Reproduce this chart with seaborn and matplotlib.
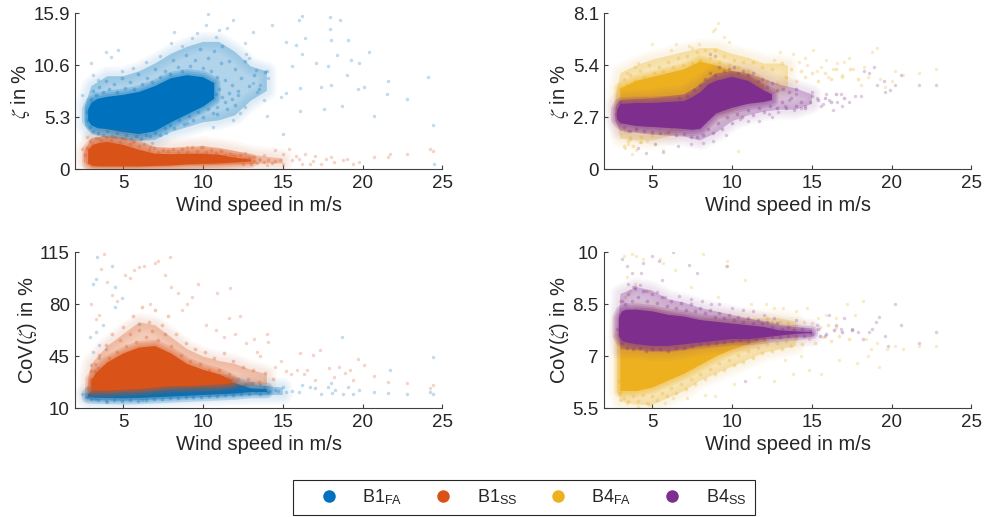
import matplotlib
import matplotlib.pyplot as plt
from matplotlib.lines import Line2D
import pandas as pd
import seaborn as sns

matplotlib.use('Agg')

# colours of the four series
blue = '#0072BD'
orange = '#D95319'
yellow = '#EDB120'
purple = '#7E2F8E'

zeta_b1fa_core = [[2.8, 5.0, 6.1], [3.0, 4.5, 6.8], [3.4, 4.2, 7.2], [4, 4.1, 7.4], [5, 3.8, 7.6], [6, 3.6, 7.9], [7, 3.9, 8.5], [8, 4.8, 9.3], [9, 5.6, 9.6], [10, 6.4, 9.4], [10.7, 7.2, 8.8]]
zeta_b1fa_haze = [[2.6, 4.5, 6.5], [3, 3.6, 8.5], [4, 3.2, 9.5], [5, 3.0, 9.5], [6, 2.9, 10], [7, 3.0, 10.8], [8, 3.8, 11.8], [9, 4.3, 12.5], [10, 4.8, 13], [11, 5, 13], [12, 5.5, 12], [13, 7, 10.5], [14, 8, 10]]
zeta_b1ss_core = [[2.8, 0.6, 2.0], [3.1, 0.35, 2.5], [3.5, 0.3, 2.7], [4, 0.3, 2.8], [5, 0.3, 2.5], [6, 0.3, 2.0], [7, 0.35, 1.6], [8, 0.4, 1.55], [9, 0.5, 1.6], [10, 0.55, 1.6], [11, 0.6, 1.5], [12, 0.7, 1.2], [13, 0.8, 1.0]]
zeta_b1ss_haze = [[2.5, 0.8, 1.6], [3, 0.2, 3.2], [4, 0.2, 3.4], [5, 0.2, 3.3], [6, 0.2, 2.9], [7, 0.25, 2.3], [8, 0.3, 2.2], [9, 0.4, 2.3], [10, 0.4, 2.4], [11, 0.45, 2.2], [12, 0.5, 1.9], [13, 0.55, 1.5], [14, 0.6, 1.3], [15, 0.6, 1.1]]
zeta_b4fa_core = [[3, 2.7, 4.2], [4, 2.7, 4.6], [5, 2.7, 4.8], [6, 2.7, 5.0], [7, 2.9, 5.2], [8, 3.2, 5.6], [9, 3.8, 5.4], [10, 4.0, 5.1], [11, 4.0, 4.9], [12, 4.0, 4.4]]
zeta_b4fa_haze = [[2.7, 2.7, 3.8], [3, 1.6, 5], [4, 1.5, 5.4], [5, 1.5, 5.7], [6, 1.7, 5.9], [7, 2, 6.1], [8, 2.3, 6.3], [9, 2.8, 6.3], [10, 3, 6], [11, 3.5, 5.8], [12, 3.8, 5.5], [13, 4, 5.5], [13.5, 4.3, 5.4]]
zeta_b4ss_core = [[2.8, 2.6, 3.1], [3, 2.4, 3.4], [4, 2.25, 3.45], [5, 2.2, 3.45], [6, 2.15, 3.5], [7, 2.1, 3.55], [7.5, 2.05, 3.75], [8, 2.1, 4.0], [8.5, 2.5, 4.4], [9, 2.9, 4.6], [10, 3.2, 4.8], [11, 3.4, 4.6], [12, 3.5, 4.1], [12.5, 3.6, 3.9]]
zeta_b4ss_haze = [[2.7, 2.5, 3.3], [3, 2, 3.6], [5, 1.8, 3.7], [7, 1.7, 3.9], [8, 1.5, 4.4], [9, 1.9, 5], [10, 2.5, 5.1], [11, 2.8, 5], [12, 3, 4.7], [13, 3.1, 4.4], [14, 3.1, 4.2], [15, 3.4, 3.9]]
cov_b1fa_core = [[2.8, 17.5, 19.5], [3.2, 17.2, 24], [4, 17, 26], [5, 16.8, 27], [6, 17, 28], [7, 17.5, 29], [8, 18, 29], [9, 18.5, 29], [10, 19, 29], [11, 19.5, 29], [12, 20, 27], [13, 21, 23.5], [14, 21, 23]]
cov_b1fa_haze = [[2.6, 17, 20], [3, 15.5, 21], [5, 15, 22], [8, 16.5, 25], [11, 18, 26], [13, 19, 26], [15, 19, 24]]
cov_b1ss_core = [[3, 22, 29], [3.3, 22, 34], [4, 22, 41], [5, 22.5, 47], [6, 23, 51], [7, 24, 52], [8, 25, 47], [9, 25, 40], [10, 25.5, 36], [11, 26, 33], [11.8, 27, 29]]
cov_b1ss_haze = [[2.8, 20, 30], [3, 20, 40], [4, 20, 52], [5, 21, 60], [6, 21, 68], [7, 22, 66], [8, 23, 58], [9, 24, 50], [10, 24, 45], [11, 24, 42], [12, 25, 40], [13, 25, 36], [14, 26, 33]]
cov_b4fa_core = [[3, 6.0, 7.6], [4, 6.0, 7.6], [5, 6.1, 7.6], [6, 6.3, 7.6], [7, 6.5, 7.6], [8, 6.75, 7.6], [9, 7.0, 7.6], [10, 7.2, 7.6], [11, 7.35, 7.6], [12, 7.5, 7.6]]
cov_b4fa_haze = [[2.8, 6, 7.6], [3, 5.7, 8.2], [4, 5.6, 8.4], [5, 5.6, 8.4], [6, 5.8, 8.3], [7, 6, 8.2], [8, 6.3, 8.1], [9, 6.5, 8.1], [10, 6.7, 8.1], [11, 6.9, 8.1], [12, 7.1, 8.1], [13, 7.2, 8.1], [14, 7.3, 8]]
cov_b4ss_core = [[2.9, 7.6, 8.1], [3.1, 7.45, 8.3], [3.4, 7.4, 8.35], [4, 7.35, 8.35], [5, 7.3, 8.3], [6, 7.3, 8.2], [7, 7.35, 8.15], [8, 7.4, 8.05], [9, 7.45, 8], [10, 7.5, 7.95], [11, 7.5, 7.9], [12, 7.55, 7.85], [13, 7.6, 7.75], [14, 7.65, 7.72], [15, 7.68, 7.7]]
cov_b4ss_haze = [[2.9, 7.6, 8.1], [3, 7.2, 8.8], [4, 7.2, 9], [5, 7.15, 8.9], [6, 7.15, 8.65], [7, 7.2, 8.55], [8, 7.3, 8.4], [9, 7.35, 8.3], [10, 7.4, 8.2], [11, 7.45, 8.1], [12, 7.5, 8], [13, 7.5, 7.9], [14, 7.55, 7.85], [15, 7.55, 7.8]]

# points crowding round each core, wind and value in pairs
zeta_b1fa_fringe = [[3, 7.2], [3.1, 8], [3.3, 7.6], [3.5, 8.4], [3.7, 7.9], [3.9, 9], [4.1, 8.2], [4.4, 8.7], [4.6, 7.9], [4.9, 9.3], [5.1, 8.3], [5.4, 8.9], [5.7, 8.2], [5.9, 9.7], [6.2, 8.7], [6.5, 9.3], [6.8, 8.9], [7, 10.2], [7.3, 9.4], [7.6, 10], [7.9, 9.7], [8.1, 11.2], [8.4, 10.4], [8.7, 10], [8.9, 11.7], [9.2, 10.5], [9.5, 11.1], [9.8, 12.3], [10, 10.3], [10.3, 11.4], [10.5, 10], [10.7, 12.1], [10.9, 9.4], [11.1, 10.8], [11.2, 12.6], [11.4, 9.1], [11.6, 11], [11.8, 8.6], [12, 10.2], [12.2, 8], [12.4, 9.3], [12.6, 11], [12.9, 8.5], [13.2, 9.6], [13.5, 8.2], [13.9, 9.9], [10.8, 7.7], [11, 8.2], [11.2, 7.4], [11.4, 6.9], [11.6, 7.8], [11.8, 7.2], [12, 6.6], [12.2, 7.6], [11.5, 6.2], [10.9, 6.4], [2.8, 5], [2.7, 5.8], [2.9, 4.3], [3.1, 3.9], [3.4, 3.7], [3.7, 3.5], [4, 3.9], [4.3, 3.4], [4.6, 3.7], [4.9, 3.2], [5.2, 3.5], [5.5, 3.1], [5.8, 3.4], [6.1, 3.1], [6.4, 3.5], [6.7, 3.4], [7, 3.7], [7.3, 3.5], [7.6, 4.2], [7.9, 4.5], [8.2, 4.2], [8.5, 5], [8.8, 4.6], [9.1, 5.4], [9.4, 5], [9.7, 5.9], [10, 5.3], [10.3, 6.2], [10.6, 5.7], [10.9, 5.6]]
zeta_b1ss_fringe = [[2.6, 1.5], [2.7, 2.2], [2.9, 2.9], [3.1, 2.5], [3.3, 3.2], [3.6, 3], [3.9, 3.3], [4.2, 3], [4.5, 3.3], [4.8, 2.8], [5.1, 3.1], [5.4, 2.6], [5.7, 2.9], [6, 2.4], [6.3, 2.6], [6.6, 2], [6.9, 2.2], [7.2, 1.8], [7.5, 2], [7.8, 1.9], [8.1, 2.1], [8.4, 1.8], [8.7, 2.1], [9, 1.8], [9.3, 2.3], [9.6, 1.9], [9.9, 2.3], [10.2, 1.8], [10.5, 2], [10.8, 1.7], [11.1, 1.9], [11.4, 1.5], [11.7, 1.6], [12, 1.4], [12.3, 1.5], [12.6, 1.1], [12.9, 1.2], [13.2, 0.9], [13.5, 1.1], [13.8, 0.8], [14.1, 1], [14.3, 0.7], [14.5, 0.9], [13, 0.6], [13.4, 0.7], [12.5, 0.6]]
zeta_b4fa_fringe = [[2.9, 3.4], [3, 4.2], [3.2, 4.7], [3.4, 4.4], [3.6, 4.9], [3.9, 4.6], [4.2, 5.1], [4.5, 4.8], [4.8, 5.4], [5.1, 5], [5.4, 5.3], [5.7, 5.1], [6, 5.6], [6.3, 5.3], [6.6, 5.8], [6.9, 5.4], [7.2, 5.9], [7.5, 5.5], [7.8, 6.1], [8, 5.7], [8.3, 6.2], [8.6, 5.8], [8.9, 6.2], [9.2, 5.6], [9.5, 5.9], [9.8, 5.4], [10.1, 5.7], [10.4, 5.3], [10.7, 5.6], [11, 5.1], [11.3, 5.6], [11.6, 4.8], [11.9, 5.3], [12.2, 4.6], [12.5, 5.2], [12.8, 4.5], [13.1, 5.5], [13.4, 4.8], [13.7, 5.2], [14, 4.6], [14.3, 5.1], [14.6, 4.8], [15, 5], [15.4, 4.6], [15.8, 5], [16.2, 4.7], [16.5, 5.2], [16.9, 4.8], [17.4, 5.2], [17.9, 4.7], [3.3, 2], [3.6, 1.6], [4, 2.1], [4.3, 1.7], [4.7, 2.2], [5, 1.8], [5.4, 2.1], [5.8, 1.9], [6.2, 2.1], [3.2, 1.2], [3.5, 1.5], [3.8, 1.2], [4.2, 1.4]]
zeta_b4ss_fringe = [[2.7, 2.9], [3, 3.5], [3.2, 2.2], [3.6, 2], [4, 2.1], [4.5, 2], [5, 1.95], [5.5, 1.9], [6, 1.95], [6.5, 1.8], [7, 1.85], [7.4, 1.7], [7.8, 1.7], [8.2, 1.8], [8.5, 2.1], [8.8, 1.9], [9.1, 2.4], [9.4, 2.1], [9.7, 2.7], [10, 2.4], [10.3, 2.9], [10.6, 2.7], [11, 3.1], [11.3, 2.8], [11.7, 3.2], [12, 3], [12.4, 3.3], [12.8, 3.2], [13.1, 3.5], [13.4, 3.2], [13.7, 3.7], [14, 3.3], [14.3, 3.5], [14.6, 3.2], [15, 3.8], [15.4, 3.6], [15.8, 3.7], [16.2, 3.5], [16.5, 3.9], [17, 3.7], [8, 4.4], [8.3, 4.7], [8.6, 5], [8.9, 4.9], [9.2, 5.3], [9.5, 5.1], [9.8, 5.2], [10.1, 5.3], [10.4, 5], [10.7, 5.1], [11, 4.9], [11.3, 5], [11.6, 4.6], [11.9, 4.7], [12.2, 4.3], [12.5, 4.5], [12.8, 4.1], [13.2, 4.2], [13.6, 4], [14, 4.2], [7.6, 4.1], [7.2, 3.8], [6.7, 3.7]]
cov_b1fa_fringe = [[2.7, 18], [3, 16], [3.4, 15.7], [3.9, 15.2], [4.4, 15.4], [4.9, 15], [5.4, 15.4], [5.9, 15.3], [6.4, 15.6], [6.9, 16.3], [7.4, 16.2], [7.9, 16.8], [8.4, 17.2], [8.9, 17.4], [9.4, 17.8], [9.9, 18], [10.4, 18.2], [10.9, 18.6], [11.4, 19], [11.9, 19.3], [12.4, 19.6], [12.9, 20], [13.3, 22], [13.6, 20], [13.8, 24.5], [14.1, 21], [14.5, 22.5], [12.6, 26.5], [13, 27], [3, 30], [3.1, 27], [3.2, 35], [3.3, 31], [3.4, 37]]
cov_b1ss_fringe = [[2.9, 28], [3, 35], [3.2, 40], [3.3, 33], [3.5, 46], [3.7, 38], [3.9, 53], [4.1, 44], [4.3, 60], [4.6, 48], [4.8, 56], [5, 65], [5.2, 52], [5.4, 60], [5.6, 72], [5.8, 55], [6, 63], [6.2, 78], [6.4, 58], [6.6, 68], [6.8, 62], [7, 76], [7.2, 56], [7.4, 66], [7.6, 60], [7.8, 72], [8, 52], [8.3, 60], [8.6, 46], [8.9, 54], [9.2, 42], [9.5, 50], [9.8, 40], [10.1, 48], [10.4, 36], [10.7, 44], [11, 36], [11.3, 47], [11.6, 33], [11.9, 42], [12.2, 30], [12.5, 38], [12.8, 30], [13.1, 36], [13.5, 28], [13.9, 34], [14.4, 30]]
cov_b4fa_fringe = [[2.9, 6.3], [3, 5.95], [3.2, 5.8], [3.5, 5.7], [3.8, 5.85], [4.1, 5.7], [4.4, 5.9], [4.7, 5.65], [5, 5.85], [5.3, 5.75], [5.6, 5.95], [5.9, 5.85], [6.2, 6.1], [6.5, 5.95], [6.8, 6.2], [7.1, 6.05], [7.4, 6.35], [7.7, 6.2], [8, 6.5], [8.3, 6.35], [8.6, 6.65], [8.9, 6.5], [9.2, 6.8], [9.5, 6.6], [9.8, 6.9], [10.1, 6.75], [10.4, 7.05], [10.7, 6.85], [11, 7.15], [11.3, 6.95], [11.6, 7.25], [11.9, 7.1], [12.2, 7.35], [12.5, 7.15], [12.8, 7.4], [13.1, 7.2], [13.4, 7.45], [13.7, 7.3], [14, 7.5], [14.4, 7.35], [14.8, 7.5], [15.2, 7.4], [15.7, 7.55], [16.2, 7.45], [16.7, 7.6], [17.3, 7.5], [12.5, 8], [13, 8], [13.5, 7.95], [14, 7.9], [14.5, 8], [15, 7.95], [15.5, 7.85], [16, 7.9], [16.5, 7.85], [12.2, 8.1], [3, 8.6], [3.3, 8.7], [3.6, 8.9]]
cov_b4ss_fringe = [[2.8, 7.8], [2.95, 8.2], [3.1, 8.6], [3.3, 8.5], [3.5, 8.8], [3.7, 8.6], [3.9, 9], [4.1, 8.7], [4.4, 8.9], [4.7, 8.6], [5, 8.8], [5.3, 8.55], [5.6, 8.7], [5.9, 8.45], [6.2, 8.6], [6.5, 8.4], [6.8, 8.55], [7.1, 8.35], [7.4, 8.5], [7.7, 8.3], [8, 8.4], [8.3, 8.25], [8.6, 8.35], [8.9, 8.15], [9.2, 8.25], [9.5, 8.1], [9.8, 8.2], [10.1, 8.05], [10.4, 8.15], [10.7, 8], [11, 8.1], [11.3, 7.95], [11.6, 8.05], [11.9, 7.95], [12.2, 8], [12.5, 7.85], [12.8, 7.95], [13.1, 7.8], [13.5, 7.85], [13.9, 7.75], [14.4, 7.8], [14.9, 7.7], [15.4, 7.78], [15.9, 7.65], [16.4, 7.75], [16.9, 7.7], [17.5, 7.75], [3.1, 7.4], [3.4, 7.25], [3.8, 7.2], [4.2, 7.25], [4.6, 7.15], [5, 7.2], [5.5, 7.2], [6, 7.15], [6.5, 7.25], [7, 7.25], [7.5, 7.3], [8, 7.35], [8.5, 7.35], [9, 7.4], [9.5, 7.42], [10, 7.45], [10.5, 7.47], [11, 7.45], [11.5, 7.5], [12, 7.5], [12.5, 7.55], [13, 7.55], [13.5, 7.58], [14, 7.6], [14.5, 7.6], [15, 7.65], [15.5, 7.6]]

# single scatter points that can be told apart, wind then value
zeta_b1fa_x = [10.3, 16, 16.2, 17.95, 18.6, 11.9, 10.2, 14.3, 17.95, 13.1, 19.1, 18, 16.4, 15.2, 15.8, 20.4, 18.4, 19.8, 19.3, 16.2, 17.1, 17.8, 15.6, 14, 21.6, 24.1, 20.1, 19.7, 19, 18, 17.4, 21.5, 22.8, 18.7, 17.6, 16.1, 20.7, 24.4, 15, 24.5, 14.9, 15.2, 16.1, 14, 13.8, 13.1, 13.3, 12.6, 12.7, 11.5, 9.6, 8.2, 8, 3.9, 4.7, 4.2, 3, 3.1, 2.4, 6.8, 12.3, 12.6, 11.9, 10.6, 9, 7.7, 13.6, 14.1, 12.9, 13.4, 11, 10.8, 9.3, 8.7, 7.3, 6.4, 5.6, 4.9, 3.4]
zeta_b1fa_y = [15.85, 15.2, 15.6, 15.5, 15.2, 15.2, 14.7, 14.7, 14.3, 14, 13.2, 13.2, 13.4, 13, 12.7, 12, 11.7, 10.8, 11.1, 11.8, 10.8, 10.5, 10.5, 10, 9, 9.4, 8.4, 8.2, 9.6, 8.6, 8.4, 7.65, 7.2, 6.5, 6.2, 6, 5.4, 4.5, 3.6, 0.6, 7.4, 7.8, 8.3, 5.4, 7.1, 8.8, 10.1, 12.9, 11.8, 14.4, 13.9, 14, 12.9, 12, 12.2, 11.5, 10.8, 9.6, 7.6, 2.65, 5.7, 6.4, 5, 4.35, 4.7, 3.7, 8.6, 9.3, 11.4, 7.9, 14.2, 13.5, 13.4, 12.6, 11.6, 10.9, 10.3, 10, 9.1]
zeta_b1ss_x = [24.2, 24.4, 22.8, 21.7, 21.6, 20.7, 19.8, 19.4, 18.8, 18, 17.4, 18.2, 17, 16.4, 16.2, 15.6, 15.4, 15, 14.5, 15, 16, 16.7, 13.6, 14, 13.8, 2.7, 2.4, 3.5, 5.6, 6.65, 9, 10, 11.9, 12.6, 13.2, 14.8, 15.8, 17.7, 19, 16.9]
zeta_b1ss_y = [2.1, 1.9, 1.6, 1.6, 1.3, 1.3, 0.8, 0.6, 0.95, 1.3, 0.6, 0.8, 1.35, 1.6, 0.6, 0.95, 2.1, 0.6, 2, 1.6, 1.1, 0.6, 0.95, 0.45, 1.45, 3.3, 2.1, 3.2, 2.8, 2.3, 2.3, 2.3, 1.45, 1.7, 1.25, 1.0, 1.35, 1.05, 1.1, 0.9]
zeta_b4fa_x = [22.8, 21.7, 20.7, 20.2, 20, 19.3, 19.1, 18.8, 18.5, 18.1, 17.6, 17.3, 17, 16.6, 16.3, 16, 15.6, 15.3, 15.1, 14.6, 14.2, 13.8, 13, 12.6, 9.1, 8.9, 8.8, 9.5, 9.8, 5, 6.5, 7.3, 7.9, 3.3, 3.5, 3.7, 4, 4.3, 4.7, 5.2, 5.7, 10.4, 3.6, 3.4, 3.9, 4.1, 6.2, 7.5, 14.7, 15.9, 16.9, 18.3, 19.6]
zeta_b4fa_y = [5.2, 5.0, 4.9, 5.1, 4.6, 4.7, 6.3, 6.1, 4.8, 4.4, 5.2, 5.8, 5.6, 5.5, 5.2, 4.8, 5.3, 5.1, 6.2, 5.8, 5.6, 6.0, 6.1, 5.7, 7.6, 7.3, 7.2, 6.9, 6.6, 6.5, 6.5, 6.4, 6.5, 1.1, 1.3, 0.8, 1.0, 1.4, 1.5, 1.3, 1.0, 0.95, 1.7, 5.0, 5.3, 5.5, 6.2, 6.3, 5.4, 5.7, 4.9, 5.3, 4.3]
zeta_b4ss_x = [22.8, 21.7, 20.6, 20.2, 19.9, 19.6, 19.5, 19.1, 18.6, 18.3, 18.1, 17.7, 17.3, 16.9, 16.6, 16.3, 16.1, 15.9, 15.6, 15.3, 15, 14.6, 14.3, 14, 13.6, 13.3, 12.9, 12.3, 11.7, 11, 10.5, 9.6, 8.8, 8.2, 7.4, 6.6, 5.7, 5.2, 4.6, 4.1, 3.5, 3.2, 8.9, 8.6, 18.9, 16.8, 15.7, 14.9, 13.9, 12.5]
zeta_b4ss_y = [4.4, 4.4, 4.9, 4.4, 4.1, 4.0, 4.6, 4.4, 5.0, 5.1, 3.8, 3.8, 3.5, 3.3, 3.5, 3.1, 3.6, 3.9, 3.3, 3.7, 4.0, 3.3, 3.2, 3.9, 3.6, 3.3, 3.0, 2.9, 2.5, 2.5, 2.6, 1.8, 1.5, 1.35, 1.3, 1.2, 0.9, 1.3, 0.85, 1.1, 2.0, 2.6, 5.9, 6.0, 5.3, 3.9, 3.4, 3.5, 3.1, 2.7]
cov_b1fa_x = [3.35, 4.3, 3.3, 3.1, 4.5, 4.9, 4.5, 2.9, 3.3, 3.7, 6, 18.7, 24.4, 21.7, 24.2, 24.4, 22.8, 21.6, 20.7, 19.8, 19.4, 18.8, 19.1, 18, 18.3, 17.4, 17, 16.7, 16.2, 16, 15.6, 15.2, 15, 14.7, 3.5, 3.1, 3, 3.5, 3.9, 3.2, 4, 6.2, 2.4, 13.6, 13.1, 14.2, 12.8, 17.8, 18.1]
cov_b1fa_y = [111.6, 106, 96.8, 94, 92, 84, 78.4, 58, 61.6, 66, 67, 58, 44.8, 36, 20.8, 19.6, 19.6, 20.5, 21, 22.3, 20, 19.4, 24.6, 26.8, 22.3, 20, 23.5, 24.6, 25.7, 21, 22, 21, 24.6, 21.7, 52.6, 48, 39, 43.7, 50, 16.3, 14.5, 15.6, 19.4, 25.7, 26.8, 22, 27.4, 24.5, 20.6]
cov_b1ss_x = [3.8, 7.9, 7.2, 7, 6.3, 6, 5.7, 5.1, 5.4, 3.6, 4, 7.6, 8, 8.4, 9.7, 9.3, 11.7, 10.9, 11.6, 12.3, 14, 14.1, 12.7, 13.2, 13.6, 14.5, 14.9, 15.5, 16.1, 16.5, 16.9, 17.3, 17.9, 18.2, 18.9, 19.2, 19.7, 20.1, 20.7, 21.6, 22.8, 24.2, 24.4, 17, 15.9, 16.3, 3.3, 3, 3.5, 4.3, 4.6, 6.7, 8.7, 9, 10.2, 10.8, 11.3, 12, 13.4, 15.2, 18.5, 19.4, 2.7]
cov_b1ss_y = [114, 112, 109, 108, 106, 105, 103, 100, 98, 104, 95, 100, 92, 88, 94, 85, 91, 88, 71, 72, 60, 55, 54, 57, 45, 38, 42, 33, 47, 36, 46, 49, 37, 31, 34, 36, 43, 39, 32, 28, 27, 24, 26, 29, 36, 33, 70, 80, 73, 86, 82, 80, 76, 80, 66, 63, 58, 60, 48, 35, 38, 29, 24]
cov_b4fa_x = [3.2, 3.7, 4, 4.4, 5.5, 5.7, 8.2, 9.7, 9.6, 10.8, 3.4, 3.9, 4.8, 6.4, 7.4, 9.1, 11.2, 12.1, 12.6, 13.2, 14, 14.7, 15.4, 15.9, 16.5, 17.2, 17.7, 18.2, 18.4, 18.7, 19.1, 19.7, 20.2, 20.7, 21.7, 22.8, 3, 3.4, 4.1, 4.8, 5.8, 6.3, 7.2, 8.3, 8.9, 10.1, 11.7, 12.6, 13.8, 14.8, 15.6, 16.7, 17.8, 18.5, 19.2, 13.3, 14.3]
cov_b4fa_y = [9.9, 9.95, 9.9, 9.8, 9.8, 9.7, 9.95, 9.75, 9.6, 9.2, 9.3, 9.1, 8.9, 9.5, 9.0, 8.7, 8.5, 8.5, 8.4, 8.4, 8.3, 8.4, 8.1, 8.2, 8.1, 8.5, 8.2, 8.6, 7.5, 7.2, 7.4, 7.2, 7.3, 7.2, 7.3, 7.3, 5.75, 5.65, 5.55, 5.6, 5.65, 5.8, 5.8, 5.9, 5.85, 6.2, 6.4, 6.3, 6.5, 6.6, 6.5, 6.9, 6.8, 7.0, 6.7, 6.9, 7.0]
cov_b4ss_x = [3.1, 3.4, 3.7, 4.4, 5, 5.4, 6.3, 7.3, 7.8, 9.7, 3.5, 3.8, 4.2, 4.6, 5.3, 5.8, 6.7, 7.4, 8.1, 8.7, 9.2, 10, 10.7, 11.3, 12, 12.6, 14, 15.3, 16.1, 16.5, 17, 17.5, 17.9, 18.2, 18.6, 19, 19.2, 19.6, 19.8, 20.2, 20.6, 21.7, 22.8, 15.8, 16.8, 18.8, 10.8, 3.9, 4.3, 5.6]
cov_b4ss_y = [9.8, 9.6, 9.4, 9.7, 9.9, 9.75, 10, 9.65, 9.4, 9.6, 9.1, 9.0, 9.05, 8.9, 8.85, 8.7, 8.75, 8.65, 8.6, 8.5, 8.5, 8.4, 8.35, 8.3, 8.2, 8.1, 8.05, 7.9, 8.2, 7.9, 8.1, 7.8, 7.7, 7.5, 7.7, 8.0, 8.15, 7.6, 7.3, 8.5, 7.9, 7.4, 7.7, 7.6, 7.8, 7.8, 6.3, 8.95, 9.4, 9.2]

xticks = [5, 10, 15, 20, 25]
zeta_b1_ticks = [0, 5.3, 10.6, 15.9]
zeta_b4_ticks = [0, 2.7, 5.4, 8.1]
cov_b1_ticks = [10, 45, 80, 115]
cov_b4_ticks = [5.5, 7, 8.5, 10]
zeta_b1_labels = ['0', '5.3', '10.6', '15.9']
zeta_b4_labels = ['0', '2.7', '5.4', '8.1']
cov_b1_labels = ['10', '45', '80', '115']
cov_b4_labels = ['5.5', '7', '8.5', '10']

sns.set_theme(style='ticks')
plt.rcParams['font.family'] = ['Liberation Sans', 'DejaVu Sans']
plt.rcParams['mathtext.fontset'] = 'custom'
plt.rcParams['mathtext.rm'] = 'Liberation Sans'
plt.rcParams['mathtext.it'] = 'STIXGeneral:italic'
plt.rcParams['mathtext.cal'] = 'Liberation Sans'
plt.rcParams['mathtext.bf'] = 'Liberation Sans:bold'


def soft_band(ax, band, color, alpha, widths, edge_alpha):
    # a band with feathered edges so it does not read as a hard polygon
    ax.fill_between(band['wind'], band['low'], band['high'], facecolor=color, edgecolor='none', alpha=alpha)
    for w in widths:
        ax.fill_between(band['wind'], band['low'], band['high'], facecolor='none', edgecolor=color,
                        alpha=edge_alpha, lw=w, joinstyle='round')


def draw_series(ax, color, core, haze, fringe, xs, ys):
    haze = pd.DataFrame(haze, columns=['wind', 'low', 'high'])
    core = pd.DataFrame(core, columns=['wind', 'low', 'high'])
    fringe = pd.DataFrame(fringe, columns=['wind', 'value'])
    soft_band(ax, haze, color, 0.3, [14, 11, 8, 5], 0.03)
    soft_band(ax, core, color, 1, [9, 6, 3], 0.2)
    sns.scatterplot(data=fringe, x='wind', y='value', ax=ax, color=color, s=7, alpha=0.3, linewidth=0)
    sns.scatterplot(x=xs, y=ys, ax=ax, color=color, s=6, alpha=0.25, linewidth=0)


def style_axes(ax, yticks, ylabels, ylabel):
    ax.set_xlim(2, 25)
    ax.set_ylim(yticks[0], yticks[-1])
    ax.set_xticks(xticks)
    ax.set_xticklabels([str(t) for t in xticks])
    ax.set_yticks(yticks)
    ax.set_yticklabels(ylabels)
    ax.tick_params(direction='in', length=3, width=0.8, labelsize=13.5, color='#404040', labelcolor='#262626', pad=4)
    ax.set_xlabel('Wind speed in m/s', fontsize=14.5, color='#262626', labelpad=3)
    ax.set_ylabel(ylabel, fontsize=14.5, color='#262626', labelpad=1)
    sns.despine(ax=ax)
    for side in ['left', 'bottom']:
        ax.spines[side].set_linewidth(0.8)
        ax.spines[side].set_color('#404040')


fig = plt.figure(figsize=(9.86, 5.17), dpi=100)
ax_tl = fig.add_axes([75.4 / 986, (517 - 169.4) / 517, 367 / 986, 156 / 517])
ax_tr = fig.add_axes([604.4 / 986, (517 - 169.4) / 517, 367 / 986, 156 / 517])
ax_bl = fig.add_axes([75.4 / 986, (517 - 408.4) / 517, 367 / 986, 156 / 517])
ax_br = fig.add_axes([604.4 / 986, (517 - 408.4) / 517, 367 / 986, 156 / 517])

draw_series(ax_tl, blue, zeta_b1fa_core, zeta_b1fa_haze, zeta_b1fa_fringe, zeta_b1fa_x, zeta_b1fa_y)
draw_series(ax_tl, orange, zeta_b1ss_core, zeta_b1ss_haze, zeta_b1ss_fringe, zeta_b1ss_x, zeta_b1ss_y)
draw_series(ax_tr, yellow, zeta_b4fa_core, zeta_b4fa_haze, zeta_b4fa_fringe, zeta_b4fa_x, zeta_b4fa_y)
draw_series(ax_tr, purple, zeta_b4ss_core, zeta_b4ss_haze, zeta_b4ss_fringe, zeta_b4ss_x, zeta_b4ss_y)
draw_series(ax_bl, blue, cov_b1fa_core, cov_b1fa_haze, cov_b1fa_fringe, cov_b1fa_x, cov_b1fa_y)
draw_series(ax_bl, orange, cov_b1ss_core, cov_b1ss_haze, cov_b1ss_fringe, cov_b1ss_x, cov_b1ss_y)
draw_series(ax_br, yellow, cov_b4fa_core, cov_b4fa_haze, cov_b4fa_fringe, cov_b4fa_x, cov_b4fa_y)
draw_series(ax_br, purple, cov_b4ss_core, cov_b4ss_haze, cov_b4ss_fringe, cov_b4ss_x, cov_b4ss_y)

style_axes(ax_tl, zeta_b1_ticks, zeta_b1_labels, r'$\zeta$ in %')
style_axes(ax_tr, zeta_b4_ticks, zeta_b4_labels, r'$\zeta$ in %')
style_axes(ax_bl, cov_b1_ticks, cov_b1_labels, r'CoV($\zeta$) in %')
style_axes(ax_br, cov_b4_ticks, cov_b4_labels, r'CoV($\zeta$) in %')

handles = [Line2D([], [], ls='', marker='o', ms=9, mew=0, color=c) for c in [blue, orange, yellow, purple]]
labels = [r'B1$_{\mathrm{FA}}$', r'B1$_{\mathrm{SS}}$', r'B4$_{\mathrm{FA}}$', r'B4$_{\mathrm{SS}}$']
leg = fig.legend(handles, labels, ncol=4, loc='center', bbox_to_anchor=(524 / 986, 19.5 / 517),
                 fontsize=13, frameon=True, fancybox=False, edgecolor='#262626', framealpha=1,
                 borderpad=0.45, handlelength=3, columnspacing=0.73, handletextpad=0.37, labelcolor='#262626')
leg.get_frame().set_linewidth(0.8)

plt.savefig('out.png', dpi=100)
plt.close()
